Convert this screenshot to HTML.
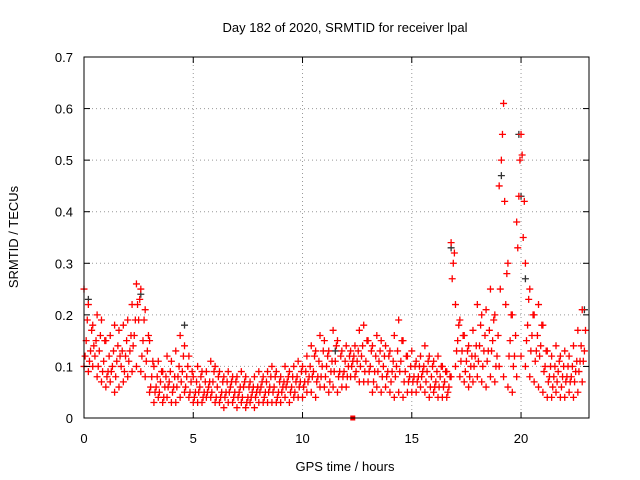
<!DOCTYPE html>
<html><head><meta charset="utf-8"><style>
body{margin:0;background:#fff;}
svg{display:block;font-family:"Liberation Sans",sans-serif;}
</style></head><body>
<svg id="chart" width="640" height="480" viewBox="0 0 640 480">
<rect x="0" y="0" width="640" height="480" fill="#fff"/>
<g id="grid"></g>
<g id="marks"></g>
<rect x="84" y="57" width="505" height="361" fill="none" stroke="#000" stroke-width="1"/>
<g id="ticks"></g>
<text x="345" y="32" text-anchor="middle" font-size="13">Day 182 of 2020, SRMTID for receiver lpal</text>
<text x="345" y="471" text-anchor="middle" font-size="13">GPS time / hours</text>
<text transform="translate(18,237) rotate(-90)" text-anchor="middle" font-size="13">SRMTID / TECUs</text>
</svg>
<script>
const xTicks=[0,5,10,15,20];
const yTicks=[0,0.1,0.2,0.3,0.4,0.5,0.6,0.7];
const yTickLabels=["0","0.1","0.2","0.3","0.4","0.5","0.6","0.7"];
const loVals=[0.10,0.09,0.10,0.08,0.07,0.06,0.07,0.05,0.06,0.07,0.08,0.09,0.10,0.09,0.08,0.05,0.03,0.04,0.03,0.04,0.03,0.03,0.04,0.05,0.04,0.03,0.03,0.03,0.04,0.04,0.03,0.03,0.02,0.03,0.03,0.02,0.03,0.02,0.03,0.02,0.03,0.03,0.03,0.03,0.03,0.03,0.04,0.03,0.04,0.04,0.04,0.05,0.05,0.04,0.06,0.06,0.05,0.06,0.05,0.06,0.06,0.08,0.08,0.07,0.07,0.07,0.05,0.06,0.05,0.06,0.05,0.04,0.05,0.04,0.05,0.05,0.05,0.06,0.05,0.04,0.05,0.04,0.04,0.04,0.08,0.10,0.08,0.07,0.06,0.07,0.08,0.07,0.06,0.08,0.07,0.10,0.08,0.06,0.05,0.08,0.12,0.10,0.08,0.07,0.06,0.05,0.04,0.04,0.05,0.04,0.04,0.05,0.04,0.05,0.07];
const hiVals=[0.25,0.22,0.18,0.20,0.19,0.15,0.16,0.18,0.17,0.18,0.19,0.22,0.26,0.25,0.21,0.15,0.10,0.11,0.09,0.12,0.11,0.13,0.16,0.14,0.12,0.08,0.10,0.09,0.09,0.11,0.10,0.09,0.08,0.09,0.08,0.08,0.09,0.08,0.07,0.08,0.09,0.08,0.09,0.10,0.09,0.08,0.10,0.09,0.10,0.11,0.10,0.12,0.14,0.13,0.16,0.15,0.13,0.17,0.15,0.13,0.14,0.13,0.14,0.17,0.18,0.15,0.14,0.16,0.15,0.14,0.13,0.16,0.19,0.15,0.12,0.13,0.11,0.12,0.14,0.12,0.11,0.12,0.10,0.09,0.34,0.22,0.19,0.16,0.14,0.17,0.22,0.20,0.21,0.25,0.20,0.45,0.61,0.30,0.20,0.38,0.55,0.30,0.25,0.20,0.22,0.18,0.13,0.12,0.14,0.12,0.13,0.12,0.14,0.17,0.21];
const midVals=[0.15,0.13,0.12,0.13,0.11,0.09,0.10,0.11,0.10,0.12,0.13,0.16,0.19,0.15,0.13,0.08,0.06,0.07,0.06,0.07,0.06,0.08,0.09,0.08,0.07,0.05,0.06,0.05,0.06,0.07,0.06,0.05,0.05,0.06,0.05,0.05,0.06,0.04,0.05,0.05,0.06,0.05,0.06,0.06,0.05,0.06,0.07,0.06,0.07,0.07,0.07,0.08,0.09,0.08,0.10,0.10,0.09,0.11,0.09,0.09,0.10,0.11,0.11,0.12,0.11,0.10,0.09,0.11,0.10,0.09,0.09,0.10,0.11,0.09,0.08,0.08,0.08,0.09,0.09,0.08,0.07,0.08,0.07,0.06,0.30,0.15,0.13,0.11,0.10,0.12,0.14,0.13,0.13,0.15,0.12,0.50,0.22,0.15,0.12,0.43,0.35,0.18,0.16,0.13,0.14,0.10,0.08,0.08,0.09,0.08,0.08,0.08,0.09,0.11,0.13];
const q1Vals=[0.12,0.11,0.14,0.10,0.09,0.08,0.09,0.08,0.12,0.09,0.11,0.14,0.22,0.12,0.11,0.06,0.05,0.05,0.04,0.06,0.05,0.06,0.07,0.06,0.05,0.04,0.05,0.04,0.05,0.05,0.04,0.04,0.04,0.05,0.04,0.04,0.04,0.03,0.04,0.04,0.05,0.04,0.05,0.05,0.04,0.05,0.06,0.05,0.05,0.06,0.06,0.07,0.08,0.07,0.08,0.08,0.07,0.09,0.08,0.08,0.08,0.10,0.09,0.10,0.09,0.09,0.07,0.09,0.08,0.08,0.07,0.08,0.09,0.07,0.07,0.07,0.07,0.08,0.07,0.06,0.06,0.06,0.06,0.05,0.27,0.13,0.11,0.09,0.08,0.10,0.11,0.10,0.11,0.13,0.10,0.25,0.42,0.12,0.10,0.33,0.51,0.15,0.13,0.11,0.12,0.09,0.07,0.06,0.07,0.06,0.07,0.07,0.07,0.09,0.11];
const q3Vals=[0.19,0.17,0.15,0.16,0.15,0.12,0.13,0.14,0.13,0.15,0.16,0.19,0.23,0.19,0.16,0.11,0.08,0.09,0.08,0.09,0.08,0.10,0.12,0.10,0.09,0.07,0.08,0.07,0.07,0.09,0.08,0.07,0.07,0.07,0.07,0.06,0.07,0.06,0.06,0.06,0.07,0.07,0.08,0.08,0.07,0.07,0.08,0.08,0.08,0.09,0.09,0.10,0.12,0.11,0.13,0.12,0.11,0.14,0.12,0.11,0.12,0.12,0.13,0.14,0.15,0.13,0.12,0.13,0.12,0.12,0.11,0.13,0.15,0.12,0.10,0.10,0.10,0.10,0.11,0.10,0.09,0.10,0.09,0.08,0.32,0.18,0.16,0.13,0.12,0.14,0.18,0.16,0.17,0.19,0.16,0.55,0.28,0.20,0.16,0.50,0.42,0.23,0.20,0.16,0.18,0.13,0.10,0.10,0.11,0.10,0.10,0.10,0.11,0.14,0.17];
const blackTimes=[0.2,2.6,4.6,11.5,16.8,19.1,19.9,20.0,20.2,22.9];
const blackVals=[0.23,0.24,0.18,0.13,0.33,0.47,0.55,0.43,0.27,0.21];
const flagTimes=[12.3];
const flagVals=[0];
const X0=84,X1=589,Y0=418,Y1=57,XMAX=23.11,YMAX=0.7;
const xs=v=>X0+(X1-X0)*v/XMAX;
const ys=v=>Y0-(Y0-Y1)*v/YMAX;
const NS="http://www.w3.org/2000/svg";
const grid=document.getElementById('grid'),ticks=document.getElementById('ticks'),marks=document.getElementById('marks');
function mk(tag,attrs,parent){const e=document.createElementNS(NS,tag);for(const k in attrs)e.setAttribute(k,attrs[k]);parent.appendChild(e);return e;}
xTicks.forEach((t,i)=>{
  const x=xs(t);
  if(t>0){const g=mk('line',{x1:x,x2:x,y1:Y0,y2:Y1,stroke:'#999','stroke-dasharray':'1,3'},grid);
  
  }
  const a=mk('line',{x1:x,x2:x,y1:Y0,y2:Y0-6,stroke:'#000'},ticks);
  
  
  const b=mk('line',{x1:x,x2:x,y1:Y1,y2:Y1+6,stroke:'#000'},ticks);
  
  
  const l=mk('text',{x:x,y:443,'text-anchor':'middle','font-size':'13'},ticks);l.textContent=String(t);
  
  
});
yTicks.forEach((t,i)=>{
  const y=ys(t);
  if(t>0&&t<YMAX){const g=mk('line',{x1:X0,x2:X1,y1:y,y2:y,stroke:'#999','stroke-dasharray':'1,3'},grid);
  
  }
  const a=mk('line',{x1:X0,x2:X0+6,y1:y,y2:y,stroke:'#000'},ticks);
  
  
  const b=mk('line',{x1:X1,x2:X1-6,y1:y,y2:y,stroke:'#000'},ticks);
  
  
  const l=mk('text',{x:73,y:y+5,'text-anchor':'end','font-size':'13'},ticks);l.textContent=yTickLabels[i];
  
  
});
function plus(t,v,color,name){
  const x=xs(t),y=ys(v);
  const p=mk('path',{d:`M${x-3.5},${y}h7M${x},${y-3.5}v7`,stroke:color,'stroke-width':'1.3',fill:'none'},marks);
  
  
}
blackTimes.forEach((t,i)=>plus(t,blackVals[i],'#333','black-point'));
loVals.forEach((v,i)=>plus(i*0.2,v,'#f00','red-point'));
hiVals.forEach((v,i)=>plus(i*0.2,v,'#f00','red-point'));
midVals.forEach((v,i)=>plus(i*0.2+0.1,v,'#f00','red-point'));
q1Vals.forEach((v,i)=>plus(i*0.2+0.05,v,'#f00','red-point'));
q3Vals.forEach((v,i)=>plus(i*0.2+0.15,v,'#f00','red-point'));
flagTimes.forEach((t,i)=>{
  const r=mk('rect',{x:xs(t)-2.5,y:ys(flagVals[i])-2.5,width:5,height:5,fill:'#f00'},marks);
  
  
});
</script>
</body></html>
